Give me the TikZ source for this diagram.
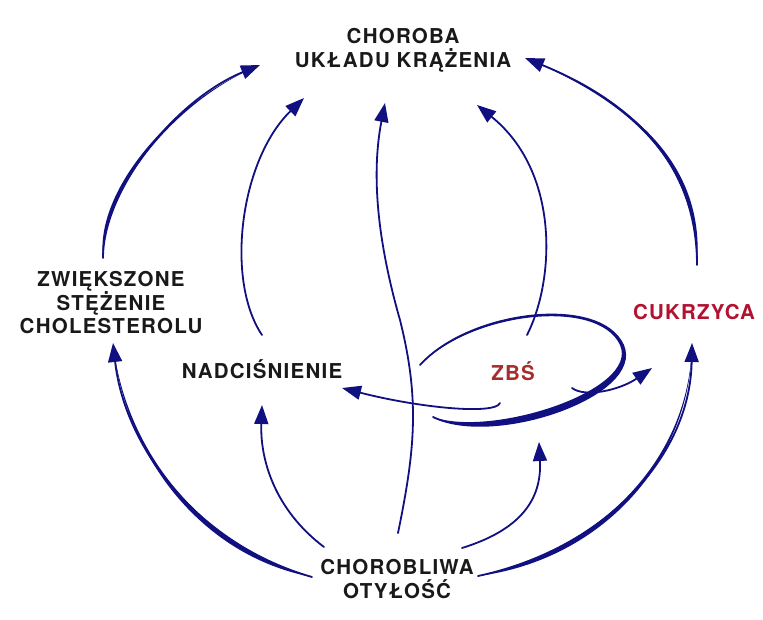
\documentclass[tikz,border=0pt]{standalone}
\usepackage{fontspec}
\setmainfont{TeX Gyre Heros}[LetterSpace=6]
\usetikzlibrary{arrows.meta,calc}
\definecolor{navy}{RGB}{16,16,128}
\definecolor{zbscol}{RGB}{165,45,45}
\definecolor{cukcol}{RGB}{178,18,48}
\definecolor{txt}{RGB}{25,25,25}
\lineskiplimit=-30pt\relax
% tapered lens: start, c1, c2, end, offset1, offset2
\newcommand\taperfill[6]{\fill[navy] (#1) .. controls (#2) and (#3) .. (#4) .. controls ($(#3)+(#6)$) and ($(#2)+(#5)$) .. (#1) -- cycle;}
\tikzset{
 conn/.style={draw=navy, line width=1.8pt, line cap=round},
 arr/.style={-{Triangle[length=19pt,width=14pt]}},
 lbl/.style={align=center, inner sep=0pt, text=txt, font=\fontsize{20.5}{23.5}\selectfont\bfseries},
 lbl1/.style={inner sep=0pt, text=txt, font=\fontsize{20.5}{23.5}\selectfont\bfseries, text height=15pt, text depth=0pt},
}
\begin{document}
\begin{tikzpicture}[x=1pt,y=-1pt]
\fill[white] (0,0) rectangle (763,619);
\useasboundingbox (0,0) rectangle (763,619);

% nodes
\node[lbl] (choroba) at (403,50.5) {CHOROBA\\UKŁADU KRĄŻENIA};
\node[lbl] (chol) at (111,303) {ZWIĘKSZONE\\STĘŻENIE\\CHOLESTEROLU};
\node[lbl1] (nadc) at (262,371) {NADCIŚNIENIE};
\node[lbl1,text=zbscol] (zbs) at (513,373) {ZBŚ};
\node[lbl1,text=cukcol] (cukr) at (694,312) {CUKRZYCA};
\node[lbl] (otyl) at (397,579) {CHOROBLIWA\\OTYŁOŚĆ};

% connector end points
\coordinate (s1) at (103,258);  \coordinate (t1) at (260,65);
\coordinate (s2) at (262,335);  \coordinate (t2) at (304,98);
\coordinate (s3) at (398,533);  \coordinate (m3) at (400,320); \coordinate (t3) at (385,103);
\coordinate (s4) at (527,335);  \coordinate (t4) at (477,105);
\coordinate (s5) at (697,265);  \coordinate (t5) at (525,58);
\coordinate (s6) at (420,365);  \coordinate (m6) at (623,345); \coordinate (e6) at (433,417);
\coordinate (s7) at (500,403);  \coordinate (t7) at (342,388);
\coordinate (s8) at (572,388);  \coordinate (t8) at (652,368);
\coordinate (s9) at (312,577);  \coordinate (t9) at (113,343);
\coordinate (s10) at (324,547); \coordinate (t10) at (262,405);
\coordinate (s11) at (462,548); \coordinate (t11) at (539,442);
\coordinate (s12) at (478,576); \coordinate (t12) at (692,343);

% cholesterol -> choroba
\taperfill{s1}{103,190}{175,100}{t1}{-8,0}{-1,-1}
\draw[conn,arr] (s1) .. controls (103,190) and (175,100) .. (t1);
% nadcisnienie -> choroba
\draw[conn,arr] (s2) .. controls (225,280) and (240,160) .. (t2);
% otylosc -> choroba (S curve)
\draw[conn,arr] (s3) .. controls (415,450) and (420,400) .. (m3) .. controls (380,250) and (370,180) .. (t3);
% zbs -> choroba
\draw[conn,arr] (s4) .. controls (555,280) and (560,172) .. (t4);
% cukrzyca -> choroba
\taperfill{s5}{697,170}{640,105}{t5}{8,0}{1,-2}
\draw[conn,arr] (s5) .. controls (697,170) and (640,105) .. (t5);
% ZBS loop
\fill[navy] (s6) .. controls (470,310) and (600,295) .. (m6) .. controls (645,395) and (495,447) .. (e6)
  .. controls (492,438) and (640,390) .. (620,345) .. controls (598,297.5) and (472,312) .. (s6) -- cycle;
\draw[conn] (s6) .. controls (470,310) and (600,295) .. (m6) .. controls (645,395) and (495,447) .. (e6);
% zbs -> nadcisnienie
\draw[conn,arr] (s7) .. controls (495,415) and (420,408) .. (t7);
% zbs -> cukrzyca
\draw[conn,arr] (s8) .. controls (585,398) and (620,390) .. (t8);
% otylosc -> cholesterol
\taperfill{s9}{200,545}{125,450}{t9}{-3,10}{-2,0}
\draw[conn,arr] (s9) .. controls (200,545) and (125,450) .. (t9);
% otylosc -> nadcisnienie
\draw[conn,arr] (s10) .. controls (275,510) and (260,460) .. (t10);
% otylosc -> zbs
\draw[conn,arr] (s11) .. controls (520,530) and (542,500) .. (t11);
% otylosc -> cukrzyca
\taperfill{s12}{600,550}{690,460}{t12}{2,10}{2,0}
\draw[conn,arr] (s12) .. controls (600,550) and (690,460) .. (t12);
\end{tikzpicture}
\end{document}
